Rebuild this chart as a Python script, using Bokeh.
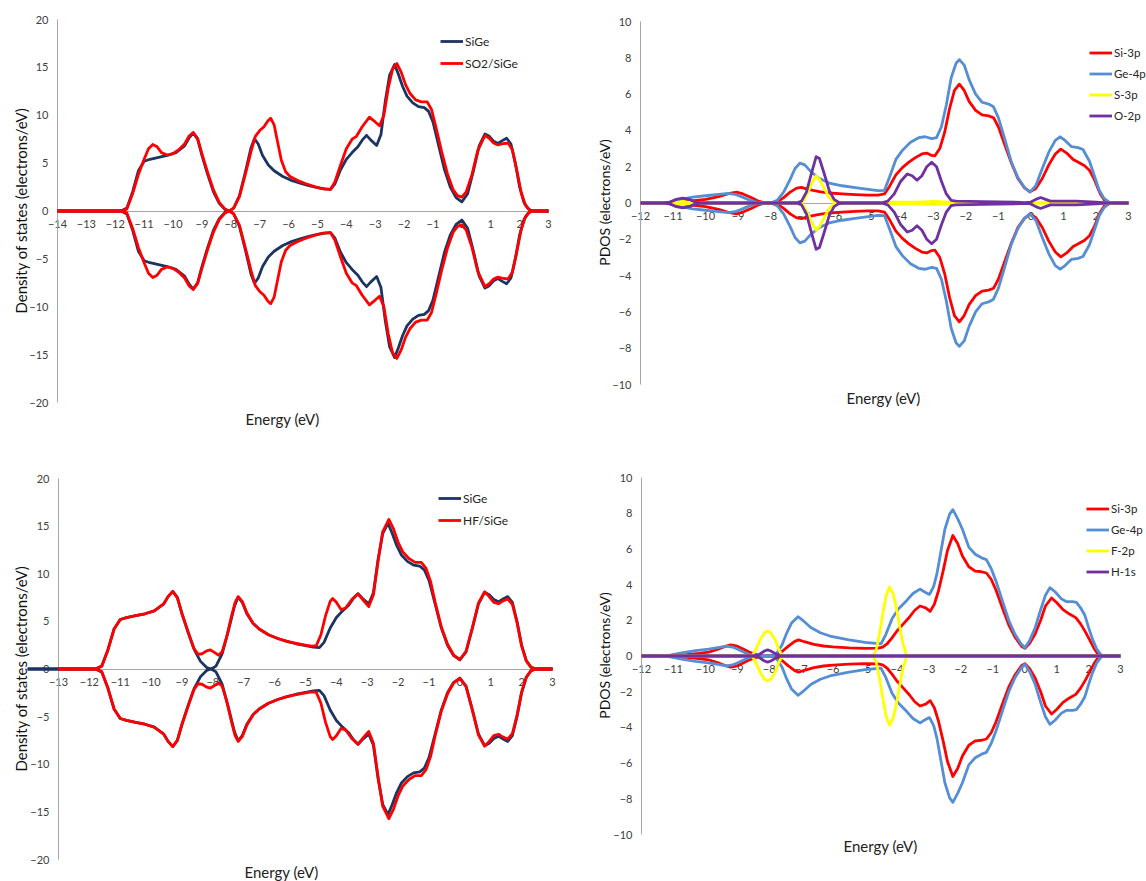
from bokeh.plotting import figure
from bokeh.models import Range1d, FixedTicker, Legend, LegendItem, Label
from bokeh.layouts import column, row
from bokeh.embed import file_html
from bokeh.resources import INLINE

FONT = "Lato"

# ---------------- Panel (a): total DOS, SiGe vs SO2/SiGe ----------------
E_sige = [-14, -12, -11.8, -11.6, -11.4, -11.2, -11.0, -10.8, -10.5, -10.2,
          -9.9, -9.6, -9.45, -9.3, -9.15, -9.0, -8.8, -8.6, -8.4, -8.2,
          -8.05, -7.9, -7.7, -7.5, -7.3, -7.18, -7.05, -6.9, -6.7, -6.5,
          -6.2, -5.9, -5.6, -5.3, -5.0, -4.75, -4.55, -4.4, -4.2, -4.0,
          -3.8, -3.6, -3.45, -3.3, -3.15, -2.95, -2.8, -2.65, -2.5, -2.33,
          -2.2, -2.05, -1.9, -1.7, -1.5, -1.3, -1.15, -1.0, -0.8, -0.6,
          -0.4, -0.2, 0.0, 0.2, 0.4, 0.6, 0.8, 0.95, 1.1, 1.25,
          1.4, 1.55, 1.7, 1.85, 2.0, 2.15, 2.3, 2.45, 2.6, 3.0]
dos_sige = [0, 0, 0, 0.3, 2.0, 4.2, 5.2, 5.4, 5.6, 5.8,
            6.1, 6.8, 7.6, 8.15, 7.5, 5.8, 3.8, 2.0, 0.8, 0.15,
            0, 0.3, 1.6, 4.0, 6.6, 7.55, 7.0, 5.8, 4.8, 4.2,
            3.6, 3.2, 2.9, 2.65, 2.45, 2.3, 2.25, 2.8, 4.3, 5.4,
            6.1, 6.7, 7.4, 7.9, 7.4, 6.85, 8.0, 11.5, 14.2, 15.3,
            14.3, 13.0, 12.0, 11.3, 10.9, 10.8, 10.4, 9.3, 6.8, 4.3,
            2.5, 1.4, 0.95, 1.8, 4.2, 6.8, 8.05, 7.8, 7.3, 7.05,
            7.35, 7.6, 7.0, 5.0, 2.5, 0.9, 0.2, 0, 0, 0]

E_so2 = [-14, -12, -11.8, -11.6, -11.4, -11.2, -11.0, -10.85, -10.7, -10.55,
         -10.4, -10.2, -10.0, -9.8, -9.6, -9.45, -9.3, -9.15, -9.0, -8.8,
         -8.6, -8.4, -8.2, -8.05, -7.9, -7.7, -7.5, -7.3, -7.15, -7.0,
         -6.85, -6.72, -6.62, -6.5, -6.38, -6.25, -6.1, -5.95, -5.7, -5.4,
         -5.1, -4.8, -4.55, -4.4, -4.2, -4.0, -3.8, -3.65, -3.45, -3.2,
         -3.0, -2.85, -2.7, -2.55, -2.4, -2.25, -2.1, -1.95, -1.8, -1.6,
         -1.4, -1.2, -1.05, -0.9, -0.7, -0.5, -0.3, -0.15, 0.0, 0.15,
         0.35, 0.55, 0.8, 0.95, 1.1, 1.25, 1.45, 1.6, 1.75, 1.9,
         2.05, 2.2, 2.35, 2.5, 3.0]
dos_so2 = [0, 0, 0, 0.2, 1.8, 3.8, 5.4, 6.5, 6.95, 6.7,
           6.1, 5.85, 6.0, 6.4, 7.0, 7.8, 8.2, 7.6, 6.0, 4.0,
           2.2, 0.9, 0.2, 0, 0.3, 1.5, 3.8, 6.2, 7.8, 8.4,
           8.8, 9.4, 9.7, 9.0, 7.2, 5.3, 4.1, 3.6, 3.2, 2.85,
           2.55, 2.3, 2.25, 3.0, 4.8, 6.5, 7.5, 7.8, 8.8, 9.8,
           9.3, 8.9, 10.0, 12.8, 14.8, 15.4, 14.5, 13.2, 12.3, 11.6,
           11.4, 11.4, 10.6, 8.8, 6.2, 3.9, 2.2, 1.6, 1.45, 2.0,
           3.8, 6.3, 7.9, 7.6, 7.1, 6.9, 7.05, 7.1, 6.4, 4.3,
           2.0, 0.6, 0.1, 0, 0]

# ---------------- Panel (b): PDOS of SO2/SiGe ----------------
E_si3p_a = [-12, -11.3, -11.0, -10.5, -10.0, -9.6, -9.3, -9.05, -8.85, -8.6,
            -8.4, -8.2, -8.0, -7.8, -7.6, -7.4, -7.2, -7.05, -6.9, -6.7,
            -6.5, -6.2, -5.8, -5.4, -5.0, -4.7, -4.5, -4.35, -4.15, -3.95,
            -3.75, -3.55, -3.35, -3.2, -3.05, -2.95, -2.8, -2.65, -2.5, -2.35,
            -2.2, -2.05, -1.9, -1.7, -1.5, -1.3, -1.15, -1.0, -0.8, -0.6,
            -0.4, -0.2, -0.03, 0.15, 0.35, 0.55, 0.75, 0.92, 1.1, 1.3,
            1.5, 1.65, 1.8, 1.95, 2.05, 2.15, 2.27, 2.4, 2.6, 3.0]
si3p_a = [0, 0, 0.02, 0.1, 0.2, 0.35, 0.52, 0.6, 0.5, 0.3,
          0.12, 0.02, 0, 0.05, 0.3, 0.6, 0.82, 0.86, 0.78, 0.7,
          0.63, 0.55, 0.5, 0.46, 0.43, 0.43, 0.5, 0.9, 1.55, 1.95,
          2.25, 2.5, 2.7, 2.75, 2.62, 2.6, 3.0, 3.9, 5.2, 6.2,
          6.55, 6.2, 5.6, 5.1, 4.85, 4.8, 4.7, 4.2, 3.2, 2.2,
          1.35, 0.85, 0.62, 0.8, 1.35, 2.1, 2.7, 2.97, 2.75, 2.4,
          2.2, 2.05, 1.8, 1.3, 0.85, 0.45, 0.13, 0.02, 0, 0]

E_ge4p_a = [-12, -11.4, -11.1, -10.8, -10.4, -10.0, -9.6, -9.3, -9.1, -8.9,
            -8.7, -8.5, -8.3, -8.0, -7.8, -7.6, -7.4, -7.25, -7.1, -6.95,
            -6.75, -6.5, -6.2, -5.8, -5.4, -5.0, -4.7, -4.5, -4.35, -4.15,
            -3.95, -3.7, -3.45, -3.25, -3.05, -2.9, -2.75, -2.6, -2.45, -2.3,
            -2.2, -2.05, -1.9, -1.7, -1.5, -1.3, -1.15, -1.0, -0.8, -0.6,
            -0.4, -0.2, -0.03, 0.15, 0.35, 0.55, 0.75, 0.9, 1.05, 1.25,
            1.45, 1.6, 1.8, 1.95, 2.1, 2.25, 2.4, 2.55, 3.0]
ge4p_a = [0, 0, 0.05, 0.18, 0.32, 0.4, 0.48, 0.53, 0.48, 0.35,
          0.2, 0.08, 0.01, 0, 0.15, 0.6, 1.3, 1.9, 2.2, 2.1,
          1.7, 1.35, 1.1, 0.95, 0.85, 0.75, 0.68, 0.7, 1.4, 2.4,
          2.9, 3.35, 3.6, 3.65, 3.55, 3.6, 4.2, 5.4, 6.9, 7.7,
          7.9, 7.6, 6.8, 6.0, 5.55, 5.45, 5.3, 4.7, 3.5, 2.25,
          1.4, 0.85, 0.6, 0.95, 1.9, 2.8, 3.45, 3.65, 3.45, 3.1,
          3.05, 2.95, 2.3, 1.5, 0.7, 0.25, 0.05, 0, 0]

E_s3p = [-12, -11.0, -10.85, -10.7, -10.55, -10.4, -7.1, -7.0, -6.85, -6.7,
         -6.6, -6.5, -6.35, -6.2, -6.05, -5.9, -4.5, -4.3, -3.5, -3.0,
         -2.5, -1.5, -1.0, 3.0]
s3p = [0, 0, 0.05, 0.09, 0.05, 0, 0, 0.1, 0.6, 1.2,
       1.5, 1.3, 0.8, 0.3, 0.05, 0, 0, 0.04, 0.05, 0.09,
       0.05, 0.03, 0, 0]

E_o2p = [-12, -11.3, -11.1, -10.9, -10.7, -10.5, -10.3, -10.1, -7.2, -7.05,
         -6.9, -6.75, -6.6, -6.5, -6.35, -6.2, -6.05, -5.9, -5.7, -4.6,
         -4.4, -4.2, -4.0, -3.8, -3.65, -3.5, -3.35, -3.2, -3.05, -2.9,
         -2.75, -2.6, -2.45, -2.3, -1.5, -0.5, -0.2, 0.0, 0.15, 0.3,
         0.45, 0.6, 0.9, 1.4, 2.0, 2.3, 3.0]
o2p = [0, 0, 0.05, 0.2, 0.27, 0.2, 0.05, 0, 0, 0.1,
       0.6, 1.6, 2.55, 2.45, 1.6, 0.7, 0.2, 0.03, 0, 0,
       0.1, 0.5, 1.2, 1.6, 1.5, 1.25, 1.5, 2.0, 2.25, 2.0,
       1.2, 0.5, 0.15, 0.1, 0.08, 0.05, 0.02, 0.05, 0.2, 0.3,
       0.2, 0.1, 0.1, 0.1, 0.05, 0, 0]

# ---------------- Panel (c): total DOS, SiGe vs HF/SiGe ----------------
E_hf = [-13, -12, -11.8, -11.6, -11.4, -11.2, -11.0, -10.8, -10.5, -10.2,
        -9.9, -9.6, -9.45, -9.3, -9.15, -9.0, -8.8, -8.62, -8.48, -8.35,
        -8.2, -8.08, -7.95, -7.82, -7.7, -7.55, -7.4, -7.28, -7.18, -7.05,
        -6.9, -6.7, -6.5, -6.2, -5.9, -5.6, -5.3, -5.0, -4.8, -4.65,
        -4.5, -4.35, -4.2, -4.12, -4.0, -3.85, -3.7, -3.5, -3.3, -3.15,
        -2.95, -2.8, -2.65, -2.5, -2.3, -2.15, -2.0, -1.85, -1.65, -1.45,
        -1.25, -1.1, -0.95, -0.8, -0.6, -0.4, -0.2, 0.0, 0.2, 0.4,
        0.6, 0.8, 0.95, 1.1, 1.25, 1.4, 1.55, 1.7, 1.85, 2.0,
        2.15, 2.3, 2.45, 3.0]
dos_hf = [0, 0, 0, 0.3, 2.0, 4.2, 5.2, 5.4, 5.6, 5.8,
          6.1, 6.8, 7.6, 8.15, 7.5, 5.8, 3.9, 2.2, 1.55, 1.6,
          1.9, 2.0, 1.75, 1.45, 1.8, 3.4, 5.5, 7.0, 7.6, 7.1,
          5.9, 4.8, 4.2, 3.6, 3.2, 2.9, 2.7, 2.5, 2.4, 2.45,
          3.6, 5.6, 7.1, 7.4, 7.0, 6.25, 6.4, 7.3, 7.9, 7.3,
          6.55, 7.8, 11.3, 14.4, 15.7, 14.7, 13.3, 12.3, 11.6, 11.2,
          11.2, 10.6, 9.2, 7.0, 4.4, 2.6, 1.45, 1.0, 1.85, 4.3,
          6.9, 8.1, 7.6, 7.0, 6.85, 7.15, 7.35, 6.8, 4.9, 2.4,
          0.85, 0.2, 0, 0]

# ---------------- Panel (d): PDOS of HF/SiGe ----------------
E_si3p_b = [-12, -11.3, -11.0, -10.6, -10.2, -9.9, -9.6, -9.4, -9.2, -9.0,
            -8.8, -8.6, -8.4, -8.2, -8.0, -7.8, -7.6, -7.4, -7.2, -7.08,
            -6.9, -6.6, -6.3, -6.0, -5.5, -5.0, -4.6, -4.45, -4.3, -4.15,
            -4.0, -3.8, -3.6, -3.45, -3.28, -3.1, -2.96, -2.83, -2.7, -2.55,
            -2.42, -2.25, -2.1, -1.95, -1.75, -1.55, -1.35, -1.2, -1.05, -0.9,
            -0.7, -0.5, -0.3, -0.1, 0.01, 0.15, 0.33, 0.5, 0.65, 0.84,
            1.0, 1.2, 1.4, 1.6, 1.75, 1.9, 2.05, 2.18, 2.28, 2.4,
            2.6, 3.0]
si3p_b = [0, 0, 0.03, 0.08, 0.15, 0.22, 0.38, 0.52, 0.62, 0.55,
          0.38, 0.2, 0.07, 0.01, 0, 0.05, 0.25, 0.55, 0.82, 0.9,
          0.8, 0.65, 0.56, 0.51, 0.46, 0.43, 0.44, 0.5, 0.7, 1.03,
          1.4, 1.8, 2.2, 2.55, 2.8, 2.7, 2.5, 2.9, 3.65, 4.8,
          5.9, 6.75, 6.3, 5.6, 5.0, 4.75, 4.72, 4.65, 4.3, 3.7,
          2.7, 1.75, 1.05, 0.55, 0.43, 0.7, 1.25, 2.0, 2.8, 3.25,
          3.0, 2.6, 2.35, 2.15, 1.8, 1.35, 0.85, 0.4, 0.15, 0.02,
          0, 0]

E_ge4p_b = [-12, -11.4, -11.1, -10.7, -10.3, -9.9, -9.6, -9.35, -9.15, -8.95,
            -8.75, -8.55, -8.4, -7.9, -7.75, -7.6, -7.45, -7.3, -7.1, -6.95,
            -6.7, -6.4, -6.1, -5.5, -5.0, -4.5, -4.35, -4.15, -3.95, -3.7,
            -3.5, -3.28, -3.1, -2.98, -2.85, -2.75, -2.62, -2.5, -2.35, -2.25,
            -2.1, -1.95, -1.75, -1.55, -1.35, -1.2, -1.05, -0.9, -0.7, -0.5,
            -0.3, -0.1, 0.01, 0.15, 0.33, 0.5, 0.65, 0.79, 0.95, 1.15,
            1.3, 1.5, 1.62, 1.75, 1.88, 2.0, 2.11, 2.25, 2.39, 2.55,
            3.0]
ge4p_b = [0, 0, 0.05, 0.19, 0.3, 0.38, 0.47, 0.55, 0.5, 0.35,
          0.18, 0.04, 0, 0, 0.2, 0.62, 1.3, 1.85, 2.2, 2.0,
          1.6, 1.3, 1.12, 0.9, 0.76, 0.68, 1.2, 2.1, 2.65, 3.1,
          3.5, 3.75, 3.55, 3.45, 3.9, 4.6, 5.9, 7.1, 7.95, 8.2,
          7.7, 7.1, 6.1, 5.7, 5.5, 5.4, 4.9, 4.2, 3.1, 2.0,
          1.2, 0.65, 0.47, 0.85, 1.6, 2.6, 3.4, 3.83, 3.6, 3.2,
          3.05, 3.05, 3.0, 2.7, 2.3, 1.6, 1.0, 0.4, 0.06, 0,
          0]

E_f2p = [-12, -8.55, -8.45, -8.3, -8.15, -8.05, -7.95, -7.8, -7.7, -7.6,
         -7.5, -4.75, -4.65, -4.55, -4.45, -4.35, -4.24, -4.12, -4.0, -3.9,
         -3.8, -3.7, -3.6, 3.0]
f2p = [0, 0, 0.25, 0.85, 1.3, 1.4, 1.3, 0.85, 0.35, 0.05,
       0, 0, 0.35, 1.2, 2.3, 3.3, 3.87, 3.5, 2.5, 1.5,
       0.6, 0.05, 0, 0]

E_h1s = [-12, -8.45, -8.3, -8.15, -8.05, -7.95, -7.8, -7.65, 3.0]
h1s = [0, 0, 0.1, 0.28, 0.34, 0.28, 0.12, 0, 0]

# ---------------- Axis ticks ----------------
xticks_a = list(range(-14, 4))
xticks_b = list(range(-12, 4))
xticks_c = list(range(-13, 4))
xticks_d = list(range(-12, 4))
yticks_dos = [-20, -15, -10, -5, 0, 5, 10, 15, 20]
yticks_pdos = [-10, -8, -6, -4, -2, 0, 2, 4, 6, 8, 10]

NAVY = "#1C3461"
RED = "#FF0000"
BLUE = "#558ED5"
YELLOW = "#FFFF00"
PURPLE = "#7030A0"
LW = 2.8


def make_fig(width, height, ax_x0, ax_x1, ax_ytop, ax_ybot, xticks, yticks,
             ylabel, ylabel_pos, ylabel_size, xlabel_pos):
    # The frame fills the whole canvas; axes are pinned inside it.
    x0, x3 = xticks[0], xticks[-1]
    ppx = (ax_x1 - ax_x0) / (x3 - x0)
    xr = Range1d(x0 - ax_x0 / ppx, x3 + (width - ax_x1) / ppx)
    yb, yt = yticks[0], yticks[-1]
    ppy = (ax_ybot - ax_ytop) / (yt - yb)
    yr = Range1d(yb - (height - ax_ybot) / ppy, yt + ax_ytop / ppy)
    p = figure(width=width, height=height, x_range=xr, y_range=yr,
               output_backend="svg", toolbar_location=None,
               min_border=0, min_border_left=0, min_border_right=0,
               min_border_top=0, min_border_bottom=0, frame_align=False)
    p.outline_line_color = None
    p.xgrid.visible = False
    p.ygrid.visible = False
    p.background_fill_color = "white"
    p.border_fill_color = "white"

    xa = p.xaxis[0]
    xa.fixed_location = 0
    xa.bounds = (x0, x3)
    xa.level = "underlay"
    xa.ticker = FixedTicker(ticks=xticks)
    xa.major_tick_in = 0
    xa.major_tick_out = 0
    xa.minor_tick_in = 0
    xa.minor_tick_out = 0
    xa.axis_line_color = "#A6A6A6"
    xa.axis_line_width = 1
    xa.major_label_standoff = 9
    xa.major_label_text_font = FONT
    xa.major_label_text_font_size = "11px"
    xa.major_label_text_color = "#404040"

    ya = p.yaxis[0]
    ya.fixed_location = x0
    ya.bounds = (yb, yt)
    ya.level = "underlay"
    ya.ticker = FixedTicker(ticks=yticks)
    ya.major_tick_in = 0
    ya.major_tick_out = 0
    ya.minor_tick_in = 0
    ya.minor_tick_out = 0
    ya.axis_line_color = "#A6A6A6"
    ya.axis_line_width = 1
    ya.major_label_standoff = 9
    ya.major_label_text_font = FONT
    ya.major_label_text_font_size = "11px"
    ya.major_label_text_color = "#404040"

    p.add_layout(Label(x=ylabel_pos[0], y=height - ylabel_pos[1],
                       x_units="screen", y_units="screen", text=ylabel,
                       angle=90, angle_units="deg", text_align="center",
                       text_baseline="middle", text_font=FONT,
                       text_font_size=ylabel_size, text_color="#111111"))
    p.add_layout(Label(x=xlabel_pos[0], y=height - xlabel_pos[1],
                       x_units="screen", y_units="screen", text="Energy (eV)",
                       text_align="center", text_baseline="middle",
                       text_font=FONT, text_font_size="15px",
                       text_color="#222222"))
    return p


def add_series(p, E, vals, color):
    r = p.line(E, vals, line_color=color, line_width=LW, line_join="round")
    p.line(E, [-v for v in vals], line_color=color, line_width=LW, line_join="round")
    return r


def add_legend(p, items, x, y, row_h, fsize):
    lg = Legend(items=[LegendItem(label=lab, renderers=[r]) for lab, r in items],
                location=(x, y), orientation="vertical",
                border_line_color=None, background_fill_alpha=0,
                padding=0, margin=0, spacing=2,
                glyph_width=23, glyph_height=row_h, label_height=row_h,
                label_standoff=2, label_text_font=FONT,
                label_text_font_size=fsize, label_text_color="#262626")
    p.add_layout(lg)


W_LEFT = 580
W_RIGHT = 1146 - W_LEFT
H_TOP = 440
H_BOT = 881 - H_TOP

# Panel a  (canvas at 0,0)
pa = make_fig(W_LEFT, H_TOP, 57, 548, 19, 402, xticks_a, yticks_dos,
              "Density of states (electrons/eV)", (20, 210), "15px", (282, 418))
ra1 = add_series(pa, E_sige, dos_sige, NAVY)
ra2 = add_series(pa, E_so2, dos_so2, RED)
add_legend(pa, [("SiGe", ra1), ("SO2/SiGe", ra2)], 440, H_TOP - 73, 20, "12px")

# Panel b  (canvas at W_LEFT,0)
pb = make_fig(W_RIGHT, H_TOP, 60, 548, 21, 384, xticks_b, yticks_pdos,
              "PDOS (electrons/eV)", (24, 202), "14px", (303, 397))
rb1 = add_series(pb, E_si3p_a, si3p_a, RED)
rb2 = add_series(pb, E_ge4p_a, ge4p_a, BLUE)
rb3 = add_series(pb, E_s3p, s3p, YELLOW)
rb4 = add_series(pb, E_o2p, o2p, PURPLE)
add_legend(pb, [("Si-3p", rb1), ("Ge-4p", rb2), ("S-3p", rb3), ("O-2p", rb4)],
           509, H_TOP - 125, 19, "11.5px")

# Panel c  (canvas at 0,H_TOP)
pc = make_fig(W_LEFT, H_BOT, 58, 552, 38, 419, xticks_c, yticks_dos,
              "Density of states (electrons/eV)", (20, 228), "15px", (281, 431))
rc1 = add_series(pc, E_sige, dos_sige, NAVY)
rc2 = add_series(pc, E_hf, dos_hf, RED)
add_legend(pc, [("SiGe", rc1), ("HF/SiGe", rc2)], 438, H_BOT - 90, 20, "12px")

# Panel d  (canvas at W_LEFT,H_TOP)
pd_ = make_fig(W_RIGHT, H_BOT, 61, 540, 37, 394, xticks_d, yticks_pdos,
               "PDOS (electrons/eV)", (24, 215), "14px", (300, 405))
rd1 = add_series(pd_, E_si3p_b, si3p_b, RED)
rd2 = add_series(pd_, E_ge4p_b, ge4p_b, BLUE)
rd3 = add_series(pd_, E_f2p, f2p, YELLOW)
rd4 = add_series(pd_, E_h1s, h1s, PURPLE)
add_legend(pd_, [("Si-3p", rd1), ("Ge-4p", rd2), ("F-2p", rd3), ("H-1s", rd4)],
           506, H_BOT - 141, 19, "11.5px")

layout = column(row(pa, pb), row(pc, pd_))
open("out.html", "w").write(file_html(layout, INLINE))
